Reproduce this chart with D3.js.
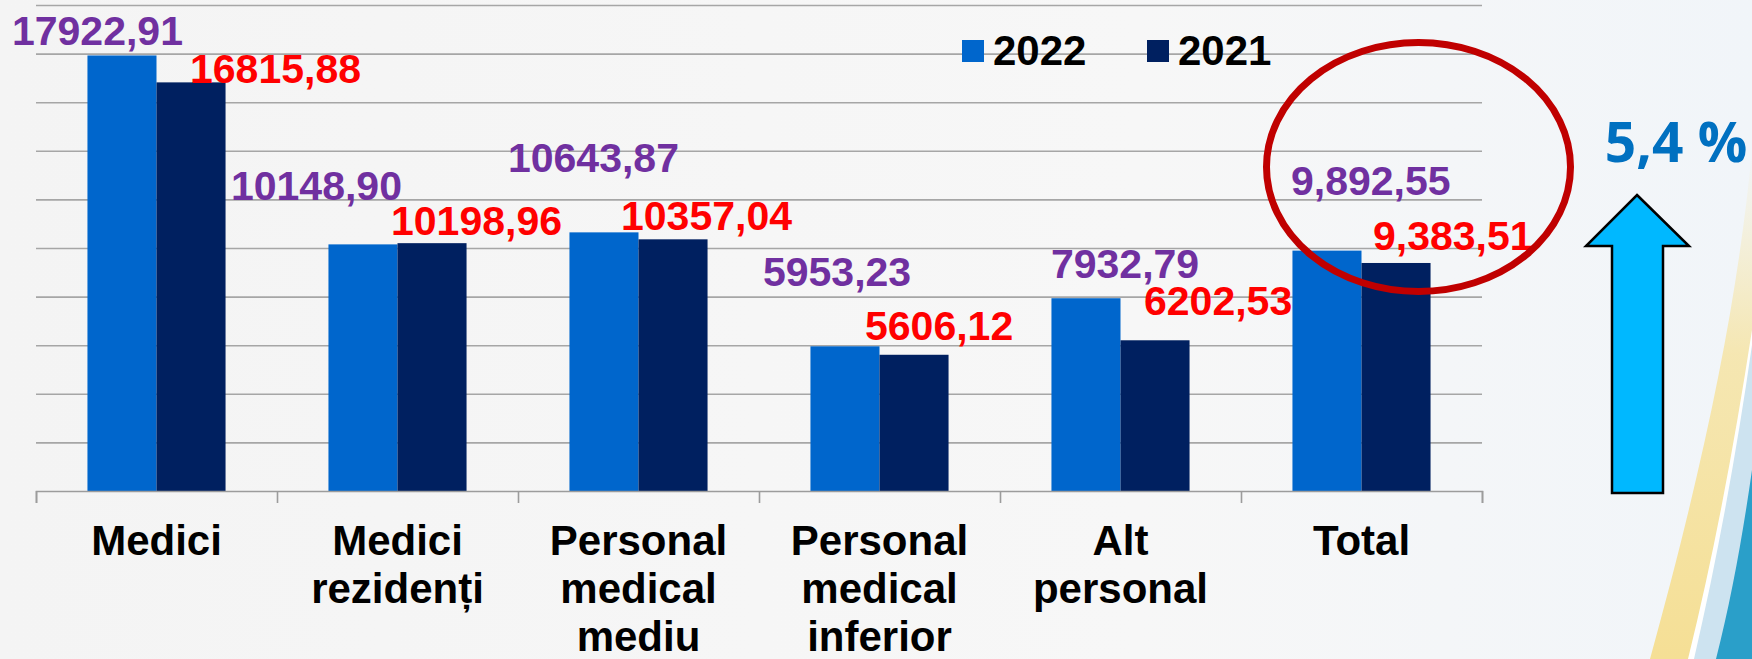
<!DOCTYPE html>
<html>
<head>
<meta charset="utf-8">
<script src="https://cdn.jsdelivr.net/npm/d3@7"></script>
<style>
html, body { margin: 0; padding: 0; background: #f4f4f4; }
svg { display: block; font-family: "Liberation Sans", Arial, sans-serif; }
</style>
</head>
<body>
<svg id="chart" width="1752" height="659"></svg>
<script>
// Data
const categories = ['Medici', 'Medici rezidenți', 'Personal medical mediu', 'Personal medical inferior', 'Alt personal', 'Total'];
const series = ['2022', '2021'];
const values2022 = [17922.91, 10148.90, 10643.87, 5953.23, 7932.79, 9892.55];
const values2021 = [16815.88, 10198.96, 10357.04, 5606.12, 6202.53, 9383.51];
const labels2022 = ['17922,91', '10148,90', '10643,87', '5953,23', '7932,79', '9,892,55'];
const labels2021 = ['16815,88', '10198,96', '10357,04', '5606,12', '6202,53', '9,383,51'];
const yTicks = [0, 2000, 4000, 6000, 8000, 10000, 12000, 14000, 16000, 18000, 20000];
const growthLabel = '5,4 %';

// Layout config
const cfg = {
    width: 1752, height: 659,
    plot: {left: 36, right: 1482, top: 5, bottom: 491},
    colors: {'2022': '#0066cc', '2021': '#002060'},
    labelColors: {'2022': '#7030a0', '2021': '#ff0000'},
    grid: '#a6a6a6'
};
// manual label nudges (left x / baseline relative to bar left / bar top), as placed in the slide
const nudge = {
    '2022': [[-75.5, -10.5], [-97.5, -44.4], [-61.5, -60.4], [-47.5, -60.3], [-0.5, -20.2], [-1.5, -55.6]],
    '2021': [[33.5, 0.6], [-6.5, -8.2], [-17.5, -9.3], [-14.5, -14.8], [23.5, -25.3], [11.5, -13]]
};

const rows = categories.map((c, i) => ({
    cat: c,
    '2022': values2022[i], '2021': values2021[i],
    lab2022: labels2022[i], lab2021: labels2021[i]
}));

const svg = d3.select('#chart');

// Background
const defs = svg.append('defs');
const bg = defs.append('linearGradient').attr('id', 'bg').attr('x1', 0).attr('x2', 1).attr('y1', 0).attr('y2', 0);
bg.append('stop').attr('offset', '0%').attr('stop-color', '#f4f4f4');
bg.append('stop').attr('offset', '65%').attr('stop-color', '#f7f7f7');
bg.append('stop').attr('offset', '100%').attr('stop-color', '#f1f5f9');
const yel = defs.append('linearGradient').attr('id', 'yel').attr('x1', 0).attr('x2', 0).attr('y1', 0).attr('y2', 1);
yel.append('stop').attr('offset', '0%').attr('stop-color', '#f7e6a8').attr('stop-opacity', 0);
yel.append('stop').attr('offset', '40%').attr('stop-color', '#f6e3a0').attr('stop-opacity', 0.8);
yel.append('stop').attr('offset', '100%').attr('stop-color', '#f5df95');

svg.append('rect').attr('width', cfg.width).attr('height', cfg.height).attr('fill', 'url(#bg)');

// Decorative swoosh on the right
const deco = svg.append('g').attr('class', 'deco');
deco.append('path')
    .attr('d', 'M1752,150 C1738,300 1705,460 1650,659 L1752,659 Z')
    .attr('fill', 'url(#yel)');
deco.append('path')
    .attr('d', 'M1752,330 C1735,440 1715,550 1688,659 L1752,659 Z')
    .attr('fill', '#ffffff');
deco.append('path')
    .attr('d', 'M1752,345 C1737,450 1718,555 1694,659 L1752,659 Z')
    .attr('fill', '#cde3f0');
deco.append('path')
    .attr('d', 'M1752,470 C1742,540 1731,600 1716,659 L1752,659 Z')
    .attr('fill', '#2a9fc9');

// Scales
const x0 = d3.scaleBand()
    .domain(categories)
    .range([cfg.plot.left, cfg.plot.right])
    .paddingInner(0.427)
    .paddingOuter(0.2135);
const x1 = d3.scaleBand().domain(series).range([0, x0.bandwidth()]);
const y = d3.scaleLinear().domain([0, 20000]).range([cfg.plot.bottom, cfg.plot.top]);
const xEdge = d3.scaleLinear().domain([0, categories.length]).range([cfg.plot.left, cfg.plot.right]);

// Horizontal grid
const grid = svg.append('g')
    .attr('class', 'chart__grid')
    .attr('transform', `translate(${cfg.plot.left},0)`)
    .call(d3.axisLeft(y).tickValues(yTicks.slice(1)).tickSize(-(cfg.plot.right - cfg.plot.left)).tickFormat(''));
grid.select('.domain').remove();
grid.selectAll('line').attr('stroke', cfg.grid).attr('stroke-width', 1.6);

// Bars
const itemg = svg.selectAll('.itemgroup')
    .data(rows)
    .enter().append('g')
    .attr('class', 'itemgroup')
    .attr('transform', d => `translate(${x0(d.cat)},0)`);

itemg.selectAll('rect')
    .data(d => series.map(s => ({s, v: d[s]})))
    .enter().append('rect')
    .attr('x', d => x1(d.s))
    .attr('y', d => y(d.v))
    .attr('width', x1.bandwidth())
    .attr('height', d => y(0) - y(d.v))
    .attr('fill', d => cfg.colors[d.s]);

// Bottom axis (ticks at category boundaries)
const xAxis = svg.append('g')
    .attr('class', 'chart__axis-x')
    .attr('transform', `translate(0,${cfg.plot.bottom})`)
    .call(d3.axisBottom(xEdge).tickValues(d3.range(categories.length + 1)).tickSize(12).tickFormat(''));
xAxis.select('.domain').attr('stroke', '#9c9c9c').attr('stroke-width', 1.6);
xAxis.selectAll('line').attr('stroke', '#9c9c9c').attr('stroke-width', 1.6);

// Category labels
svg.append('g').attr('class', 'chart__cats')
    .selectAll('text')
    .data(categories)
    .enter().append('text')
    .attr('text-anchor', 'middle')
    .attr('font-size', 42)
    .attr('font-weight', 'bold')
    .attr('fill', '#000')
    .each(function (c) {
        const t = d3.select(this);
        c.split(' ').forEach((w, k) => {
            t.append('tspan')
                .attr('x', x0(c) + x0.bandwidth() / 2)
                .attr('y', 555 + k * 48)
                .text(w);
        });
    });

// Value labels
series.forEach(s => {
    svg.append('g').attr('class', 'chart__labels')
        .selectAll('text')
        .data(rows)
        .enter().append('text')
        .attr('x', (d, i) => x0(d.cat) + x1(s) + nudge[s][i][0])
        .attr('y', (d, i) => y(d[s]) + nudge[s][i][1])
        .attr('font-size', 41)
        .attr('font-weight', 'bold')
        .attr('fill', cfg.labelColors[s])
        .text(d => d['lab' + s]);
});

// Legend
const legend = svg.append('g').attr('class', 'chart__legend');
const legendX = [962, 1147];
series.forEach((s, i) => {
    legend.append('rect')
        .attr('x', legendX[i]).attr('y', 40)
        .attr('width', 22).attr('height', 22)
        .attr('fill', cfg.colors[s]);
    legend.append('text')
        .attr('x', legendX[i] + 31).attr('y', 65)
        .attr('font-size', 42).attr('font-weight', 'bold')
        .attr('fill', '#000')
        .text(s);
});

// Highlight ellipse around Total
svg.append('ellipse')
    .attr('cx', 1418.5).attr('cy', 167)
    .attr('rx', 152).attr('ry', 124.5)
    .attr('fill', 'none')
    .attr('stroke', '#c00000')
    .attr('stroke-width', 7);

// Growth arrow + text
svg.append('path')
    .attr('d', 'M1637,195 L1689,246 L1663,246 L1663,493 L1612,493 L1612,246 L1586,246 Z')
    .attr('fill', '#00b8ff')
    .attr('stroke', '#000')
    .attr('stroke-width', 2.5)
    .attr('stroke-linejoin', 'miter');

svg.append('text')
    .attr('x', 1676).attr('y', 162)
    .attr('text-anchor', 'middle')
    .attr('font-family', '"Open Sans", "Noto Sans", sans-serif')
    .attr('font-size', 55)
    .attr('font-weight', 'bold')
    .attr('fill', '#0070c0')
    .text(growthLabel);
</script>
</body>
</html>
